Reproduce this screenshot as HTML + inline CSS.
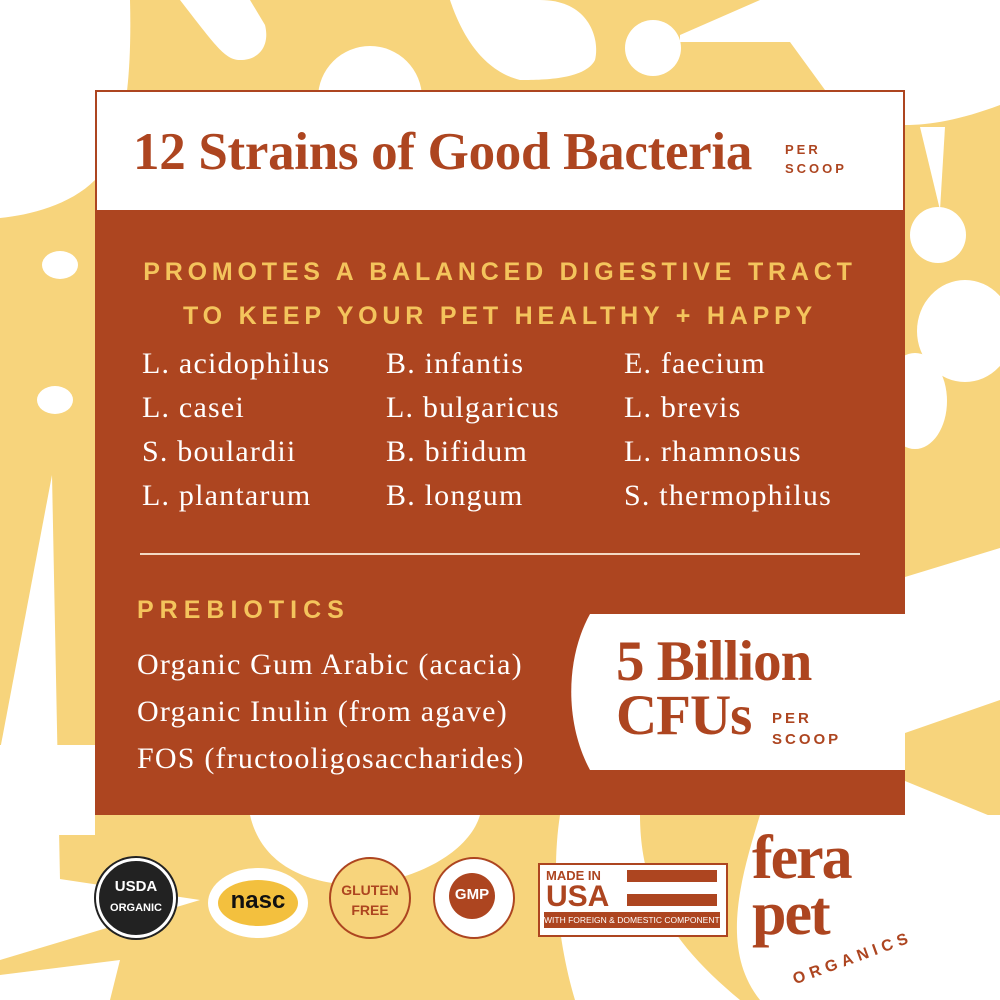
<!DOCTYPE html>
<html><head><meta charset="utf-8"><style>
body{margin:0;width:1000px;height:1000px;overflow:hidden;background:#f7d47c;position:relative;font-family:"Liberation Serif",serif}
.abs{position:absolute}
.sans{font-family:"Liberation Sans",sans-serif;font-weight:bold}
#box{left:95px;top:90px;width:810px;height:725px;background:#ad4520}
#hdr{left:97px;top:92px;width:806px;height:118px;background:#fff}
.y{color:#f4c45c;font-size:25px}
.s{color:#fff;font-size:30px;line-height:44px;letter-spacing:1.2px}
</style></head><body>
<svg class="abs" style="left:0;top:0" width="1000" height="1000">
<g fill="#fff">
<path d="M0 0H130C132 80 125 150 95 180C70 205 30 215 0 218Z"/>
<path d="M180 0L250 0L265 25C270 45 260 60 240 60C225 60 215 45 180 0Z"/>
<circle cx="370" cy="98" r="52"/>
<path d="M450 0H540C590 0 600 40 595 60C585 80 540 80 520 80C480 70 460 30 450 0Z"/>
<circle cx="653" cy="48" r="28"/>
<path d="M760 0L680 35V42H790L825 90H905V0Z"/>
<path d="M825 0H1000V105C960 120 930 125 905 125L825 90Z"/>
<path d="M920 127H945L940 210Z"/>
<circle cx="938" cy="235" r="28"/>
<ellipse cx="965" cy="331" rx="48" ry="51"/>
<ellipse cx="915" cy="401" rx="32" ry="48"/>
<path d="M905 577L1000 548V700L905 733Z"/>
<path d="M905 781L1000 820H905Z"/>
<ellipse cx="60" cy="265" rx="18" ry="14"/><ellipse cx="55" cy="400" rx="18" ry="14"/>
<path d="M52 475L60 880L0 900V750Z"/>
<rect x="0" y="745" width="95" height="90"/>
<path d="M250 815H480C470 850 420 880 360 885C300 885 260 860 250 815Z"/>
<path d="M560 815H640C640 900 680 950 740 1000H575C560 950 550 880 560 815Z"/>
<path d="M740 815H1000V1000H760C720 950 740 880 760 815Z"/>
<circle cx="285" cy="910" r="18"/><ellipse cx="610" cy="940" rx="22" ry="30"/>
<path d="M0 870L200 900L0 960Z"/>
<path d="M0 975L120 960L110 1000H0Z"/>
</g>
</svg>
<div id="box" class="abs"></div>
<div id="hdr" class="abs"></div>
<div class="abs" style="left:133px;top:122px;font-size:53px;font-weight:bold;color:#ad4520;letter-spacing:-0.3px">12 Strains of Good Bacteria</div>
<div class="abs sans" style="left:785px;top:140px;font-size:13px;color:#ad4520;letter-spacing:3px;line-height:19px">PER<br>SCOOP</div>
<div class="abs sans y" style="left:0;width:1000px;text-align:center;top:250px;line-height:44px;font-size:25px;letter-spacing:4.8px">PROMOTES A BALANCED DIGESTIVE TRACT<br>TO KEEP YOUR PET HEALTHY + HAPPY</div>
<div class="abs s" style="left:142px;top:342px">L. acidophilus<br>L. casei<br>S. boulardii<br>L. plantarum</div>
<div class="abs s" style="left:386px;top:342px">B. infantis<br>L. bulgaricus<br>B. bifidum<br>B. longum</div>
<div class="abs s" style="left:624px;top:342px">E. faecium<br>L. brevis<br>L. rhamnosus<br>S. thermophilus</div>
<div class="abs" style="left:140px;top:553px;width:720px;height:2px;background:#f3d9c4"></div>
<div class="abs sans y" style="left:137px;top:596px;letter-spacing:6px">PREBIOTICS</div>
<div class="abs s" style="left:137px;top:641px;line-height:47px">Organic Gum Arabic (acacia)<br>Organic Inulin (from agave)<br>FOS (fructooligosaccharides)</div>
<svg class="abs" style="left:570px;top:614px" width="335" height="156"><path d="M20 0H335V156H20C-5 110 -5 45 20 0Z" fill="#fff"/></svg>
<div class="abs" style="left:616px;top:635px;font-size:57px;font-weight:bold;color:#ad4520;line-height:54px;letter-spacing:-1px">5 Billion<br>CFUs</div>
<div class="abs sans" style="left:772px;top:708px;font-size:15px;color:#ad4520;letter-spacing:3px;line-height:21px">PER<br>SCOOP</div>
<div class="abs" style="left:96px;top:858px;width:74px;height:74px;border-radius:50%;background:#222;border:3px solid #fff;box-shadow:0 0 0 2px #222"></div>
<div class="abs sans" style="left:96px;top:878px;width:80px;text-align:center;color:#fff;font-size:15px">USDA</div>
<div class="abs sans" style="left:96px;top:902px;width:80px;text-align:center;color:#fff;font-size:11px">ORGANIC</div>
<div class="abs" style="left:208px;top:868px;width:100px;height:70px;border-radius:50%;background:#fff"></div>
<div class="abs" style="left:218px;top:880px;width:80px;height:46px;border-radius:50%;background:#f3c03e"></div>
<div class="abs sans" style="left:216px;top:887px;width:84px;text-align:center;color:#111;font-size:24px">nasc</div>
<div class="abs" style="left:329px;top:857px;width:78px;height:78px;border-radius:50%;border:2px solid #ad4520;background:#f7d47c"></div>
<div class="abs sans" style="left:329px;top:880px;width:82px;text-align:center;color:#ad4520;font-size:14px;line-height:20px">GLUTEN<br>FREE</div>
<div class="abs" style="left:433px;top:857px;width:78px;height:78px;border-radius:50%;border:2px solid #ad4520;background:#fff"></div>
<div class="abs" style="left:449px;top:873px;width:46px;height:46px;border-radius:50%;background:#ad4520"></div>
<div class="abs sans" style="left:449px;top:886px;width:46px;text-align:center;color:#fff;font-size:15px">GMP</div>
<div class="abs" style="left:538px;top:863px;width:186px;height:70px;border:2px solid #ad4520;background:#fff"></div>
<div class="abs sans" style="left:546px;top:868px;color:#ad4520;font-size:13px">MADE IN</div>
<div class="abs sans" style="left:546px;top:880px;color:#ad4520;font-size:30px">USA</div>
<div class="abs" style="left:627px;top:870px;width:90px;height:12px;background:#ad4520"></div>
<div class="abs" style="left:627px;top:894px;width:90px;height:12px;background:#ad4520"></div>
<div class="abs" style="left:544px;top:912px;width:176px;height:16px;background:#ad4520;color:#fff;font-size:8.5px;font-family:'Liberation Sans',sans-serif;text-align:center;line-height:16px;white-space:nowrap;overflow:hidden">WITH FOREIGN &amp; DOMESTIC COMPONENTS</div>
<div class="abs" style="left:752px;top:830px;color:#ad4520;font-size:62px;font-weight:bold;line-height:56px;letter-spacing:-2px">fera<br>pet</div>
<div class="abs sans" style="left:790px;top:950px;color:#ad4520;font-size:16px;letter-spacing:5px;transform:rotate(-20deg)">ORGANICS</div>
</body></html>
